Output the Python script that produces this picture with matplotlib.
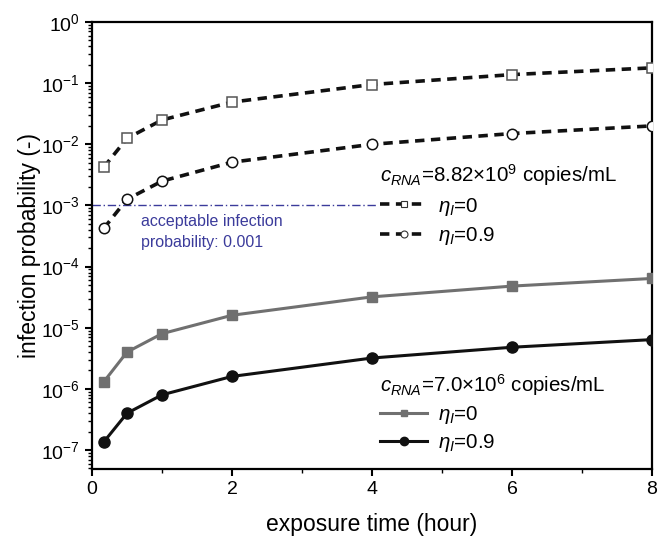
import matplotlib
matplotlib.use("Agg")
import matplotlib.pyplot as plt
from matplotlib.ticker import LogLocator, NullFormatter, MultipleLocator, LogFormatterSciNotation
from matplotlib.lines import Line2D

plt.rcParams['font.family'] = ['Liberation Sans', 'DejaVu Sans']
plt.rcParams['mathtext.fontset'] = 'custom'
plt.rcParams['mathtext.rm'] = 'Liberation Sans'
plt.rcParams['mathtext.it'] = 'Liberation Sans:italic'

# exposure time (hour)
hours = [1 / 6, 0.5, 1, 2, 4, 6, 8]
# c_RNA = 8.82e9 copies/mL
high_eta0 = [4.2e-3, 1.25e-2, 2.5e-2, 4.9e-2, 9.5e-2, 1.38e-1, 1.78e-1]
high_eta09 = [4.2e-4, 1.26e-3, 2.5e-3, 5.1e-3, 1.0e-2, 1.5e-2, 2.0e-2]
# c_RNA = 7.0e6 copies/mL
low_eta0 = [1.3e-6, 4.0e-6, 8.0e-6, 1.6e-5, 3.2e-5, 4.8e-5, 6.4e-5]
low_eta09 = [1.35e-7, 4.0e-7, 8.0e-7, 1.6e-6, 3.2e-6, 4.8e-6, 6.4e-6]
threshold = 1e-3
yticks = [1e-7, 1e-6, 1e-5, 1e-4, 1e-3, 1e-2, 1e-1, 1]

fig = plt.figure(figsize=(6.66, 5.41), dpi=100)
ax = fig.add_axes([92 / 666, 1 - 469 / 541, 560 / 666, 447 / 541])

dash = dict(ls=(0, (2.6, 1.8)), lw=2.6, color='#111111')
ax.plot(hours, high_eta0, marker='s', ms=7, mfc='white', mec='#555555',
        mew=1.1, **dash, zorder=3)
ax.plot(hours, high_eta09, marker='o', ms=7.5, mfc='white', mec='#111111',
        mew=1.1, **dash, zorder=3)
ax.plot(hours, low_eta0, marker='s', ms=7, color='#707070', lw=2.2, zorder=3)
ax.plot(hours, low_eta09, marker='o', ms=8, color='#111111', lw=2.2, zorder=3)

ax.plot([0, 4.05], [threshold, threshold], ls=(0, (6, 2, 1, 2)), lw=1.0,
        color='#3b3b9b', zorder=2)
ax.text(0.7, 7.3e-4, 'acceptable infection\nprobability: 0.001', color='#3b3b9b',
        fontsize=11.5, va='top', ha='left', linespacing=1.55)

ax.set_yscale('log')
ax.set_xlim(0, 8)
ax.set_ylim(4.9e-8, 1)
ax.xaxis.set_major_locator(MultipleLocator(2))
ax.xaxis.set_minor_locator(MultipleLocator(1))
ax.set_yticks(yticks)
ax.yaxis.set_major_formatter(LogFormatterSciNotation())
ax.yaxis.set_minor_locator(LogLocator(base=10, subs=range(2, 10), numticks=20))
ax.yaxis.set_minor_formatter(NullFormatter())
ax.tick_params(which='major', direction='out', length=5, width=1.5, labelsize=14)
ax.tick_params(which='minor', direction='out', length=3, width=1.0)
for s in ax.spines.values():
    s.set_linewidth(1.6)
ax.set_xlabel('exposure time (hour)', fontsize=16.5, labelpad=11)
ax.set_ylabel('infection probability (-)', fontsize=16.5, labelpad=0)

h1 = [Line2D([], [], marker='s', ms=5, mfc='white', mec='#333333', mew=0.8, **dash),
      Line2D([], [], marker='o', ms=5, mfc='white', mec='#333333', mew=0.8, **dash)]
leg1 = ax.legend(h1, ['$\\eta_I$=0', '$\\eta_I$=0.9'],
                 title='$c_{RNA}$=8.82×10$^9$ copies/mL', loc='upper left',
                 bbox_to_anchor=(0.496, 0.71), frameon=False, fontsize=14.8,
                 title_fontsize=14.8, handlelength=2.3, handletextpad=0.5,
                 labelspacing=0.38, borderpad=0.0, alignment='left')
ax.add_artist(leg1)
h2 = [Line2D([], [], marker='s', ms=5, color='#707070', lw=2.2),
      Line2D([], [], marker='o', ms=6, color='#111111', lw=2.2)]
ax.legend(h2, ['$\\eta_I$=0', '$\\eta_I$=0.9'],
          title='$c_{RNA}$=7.0×10$^6$ copies/mL', loc='lower left',
          bbox_to_anchor=(0.496, 0.01), frameon=False, fontsize=14.8,
          title_fontsize=14.8, handlelength=2.3, handletextpad=0.5,
          labelspacing=0.3, borderpad=0.0, alignment='left')

fig.savefig('out.png', dpi=100)
